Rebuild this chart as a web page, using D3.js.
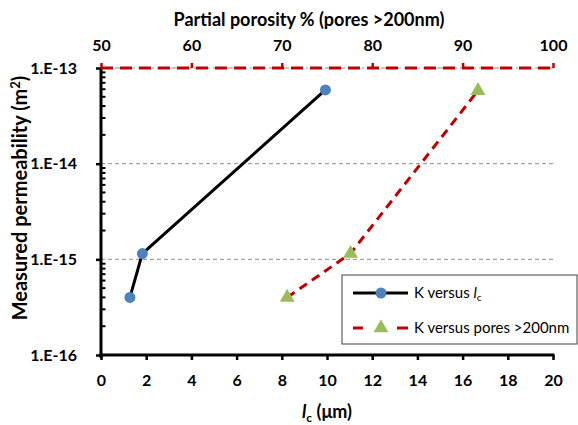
<!DOCTYPE html>
<html>
<head>
<meta charset="utf-8">
<script src="https://cdn.jsdelivr.net/npm/d3@7"></script>
<style>
  body { margin: 0; background: #fff; }
  svg text { font-family: Lato, "Open Sans", sans-serif; }
</style>
</head>
<body>
<div id="chart"></div>
<script>
// values
var lcValues = [1.28, 1.83, 9.93],
    kVsLc = [4.0e-16, 1.15e-15, 5.9e-14],
    poreValues = [70.6, 77.6, 91.7],
    kVsPores = [4.0e-16, 1.15e-15, 5.8e-14],
    lcTicks = [0, 2, 4, 6, 8, 10, 12, 14, 16, 18, 20],
    poreTicks = [50, 60, 70, 80, 90, 100],
    kTicks = [1e-16, 1e-15, 1e-14, 1e-13],
    kLabels = ['1.E-16', '1.E-15', '1.E-14', '1.E-13'];

(function() {
  var width = 578, height = 425,
      pLeft = 101, pRight = 553, pTop = 68, pBottom = 355;

  var svg = d3.select('#chart').append('svg')
    .attr('width', width)
    .attr('height', height);

  var x = d3.scaleLinear().domain([0, 20]).range([pLeft, pRight]),
      xTop = d3.scaleLinear().domain([50, 100]).range([pLeft, pRight]),
      y = d3.scaleLog().domain([1e-16, 1e-13]).range([pBottom, pTop]);

  // gridlines
  svg.append('g').selectAll('line')
    .data(kTicks.slice(1))
    .enter().append('line')
    .attr('x1', pLeft).attr('x2', pRight)
    .attr('y1', function(d) { return y(d); })
    .attr('y2', function(d) { return y(d); })
    .attr('stroke', '#8c8c8c')
    .attr('stroke-width', 1)
    .attr('stroke-dasharray', function(d) { return d === 1e-13 ? '6,3,2,3' : '4,3'; });

  // minor log ticks on left axis (inside)
  var minors = [];
  kTicks.slice(0, 3).forEach(function(d) {
    for (var m = 2; m <= 9; m++) minors.push(d * m);
  });
  svg.append('g').selectAll('line')
    .data(minors)
    .enter().append('line')
    .attr('x1', pLeft).attr('x2', pLeft + 4.5)
    .attr('y1', function(d) { return y(d); })
    .attr('y2', function(d) { return y(d); })
    .attr('stroke', '#000').attr('stroke-width', 2);

  // left axis
  var yAxis = svg.append('g')
    .attr('transform', 'translate(' + pLeft + ',0)')
    .call(d3.axisLeft(y).tickValues(kTicks).tickSize(5)
      .tickFormat(function(d, i) { return kLabels[i]; }));
  yAxis.select('.domain').attr('stroke-width', 3).attr('d', 'M0,' + pTop + 'V' + (pBottom + 3));
  yAxis.selectAll('.tick line').attr('stroke-width', 2.5);
  yAxis.selectAll('.tick text')
    .attr('x', -24)
    .style('font-size', '16px').style('font-weight', 'bold').attr('fill', '#000');

  // bottom axis
  var xAxis = svg.append('g')
    .attr('transform', 'translate(0,' + pBottom + ')')
    .call(d3.axisBottom(x).tickValues(lcTicks).tickSize(5));
  xAxis.select('.domain').attr('stroke-width', 3).attr('d', 'M' + (pLeft - 1.5) + ',0H' + (pRight + 1.5));
  xAxis.selectAll('.tick line').attr('stroke-width', 2.5);
  xAxis.selectAll('.tick text')
    .attr('y', 20)
    .style('font-size', '16px').style('font-weight', 'bold').attr('fill', '#000');

  // top axis (red dashed)
  var topAxis = svg.append('g')
    .attr('transform', 'translate(0,' + pTop + ')')
    .call(d3.axisTop(xTop).tickValues(poreTicks).tickSize(5));
  topAxis.select('.domain')
    .attr('d', 'M' + pLeft + ',0H' + pRight)
    .attr('stroke', '#c00000').attr('stroke-width', 3)
    .attr('stroke-dasharray', '12,7');
  topAxis.selectAll('.tick line').attr('stroke', '#c00000').attr('stroke-width', 2.5);
  topAxis.selectAll('.tick text')
    .attr('y', -17)
    .style('font-size', '16px').style('font-weight', 'bold').attr('fill', '#000');

  // series: K versus lc
  var lineLc = d3.line()
    .x(function(d) { return x(d[0]); })
    .y(function(d) { return y(d[1]); });
  var lcData = d3.zip(lcValues, kVsLc);
  svg.append('path')
    .datum(lcData)
    .attr('d', lineLc)
    .attr('fill', 'none')
    .attr('stroke', '#000')
    .attr('stroke-width', 3);
  svg.append('g').selectAll('circle')
    .data(lcData)
    .enter().append('circle')
    .attr('cx', function(d) { return x(d[0]); })
    .attr('cy', function(d) { return y(d[1]); })
    .attr('r', 5.5)
    .attr('fill', '#4f81bd');

  // series: K versus pores >200nm
  var linePores = d3.line()
    .x(function(d) { return xTop(d[0]); })
    .y(function(d) { return y(d[1]); });
  var poreData = d3.zip(poreValues, kVsPores);
  svg.append('path')
    .datum(poreData)
    .attr('d', linePores)
    .attr('fill', 'none')
    .attr('stroke', '#c00000')
    .attr('stroke-width', 3)
    .attr('stroke-dasharray', '9,6');
  var tri = d3.symbol().type(d3.symbolTriangle).size(95);
  svg.append('g').selectAll('path')
    .data(poreData)
    .enter().append('path')
    .attr('d', tri)
    .attr('transform', function(d) { return 'translate(' + xTop(d[0]) + ',' + y(d[1]) + ')'; })
    .attr('fill', '#9bbb59');

  // titles
  svg.append('text')
    .attr('x', 309).attr('y', 26)
    .attr('text-anchor', 'middle')
    .style('font-size', '18px').style('font-weight', 'bold')
    .text('Partial porosity % (pores >200nm)');

  var yTitle = svg.append('text')
    .attr('transform', 'translate(27,198) rotate(-90)')
    .attr('text-anchor', 'middle')
    .style('font-size', '20px').style('font-weight', 'bold');
  yTitle.append('tspan').text('Measured permeability (m');
  yTitle.append('tspan').attr('dy', -7).style('font-size', '13px').text('2');
  yTitle.append('tspan').attr('dy', 7).text(')');

  var xTitle = svg.append('text')
    .attr('x', 327).attr('y', 418)
    .attr('text-anchor', 'middle')
    .style('font-size', '18px').style('font-weight', 'bold');
  xTitle.append('tspan').style('font-style', 'italic').text('l');
  xTitle.append('tspan').attr('dy', 4).style('font-size', '12px').text('c');
  xTitle.append('tspan').attr('dy', -4).text(' (\u03bcm)');

  // legend
  var legend = svg.append('g');
  legend.append('rect')
    .attr('x', 342).attr('y', 275)
    .attr('width', 235).attr('height', 69)
    .attr('fill', '#fff')
    .attr('stroke', '#404040').attr('stroke-width', 1);

  var ly1 = 293, ly2 = 328;
  legend.append('line')
    .attr('x1', 353).attr('x2', 408).attr('y1', ly1).attr('y2', ly1)
    .attr('stroke', '#000').attr('stroke-width', 3);
  legend.append('circle')
    .attr('cx', 381).attr('cy', ly1).attr('r', 5.5).attr('fill', '#4f81bd');
  var t1 = legend.append('text')
    .attr('x', 414).attr('y', ly1 + 5)
    .style('font-size', '15px');
  t1.append('tspan').text('K versus ');
  t1.append('tspan').style('font-style', 'italic').text('l');
  t1.append('tspan').attr('dy', 3).style('font-size', '10px').text('c');

  legend.append('line')
    .attr('x1', 353).attr('x2', 408).attr('y1', ly2).attr('y2', ly2)
    .attr('stroke', '#c00000').attr('stroke-width', 3)
    .attr('stroke-dasharray', '10,34,11');
  legend.append('path')
    .attr('d', tri)
    .attr('transform', 'translate(381,' + ly2 + ')')
    .attr('fill', '#9bbb59');
  legend.append('text')
    .attr('x', 414).attr('y', ly2 + 5)
    .style('font-size', '15px')
    .text('K versus pores >200nm');
})();
</script>
</body>
</html>
